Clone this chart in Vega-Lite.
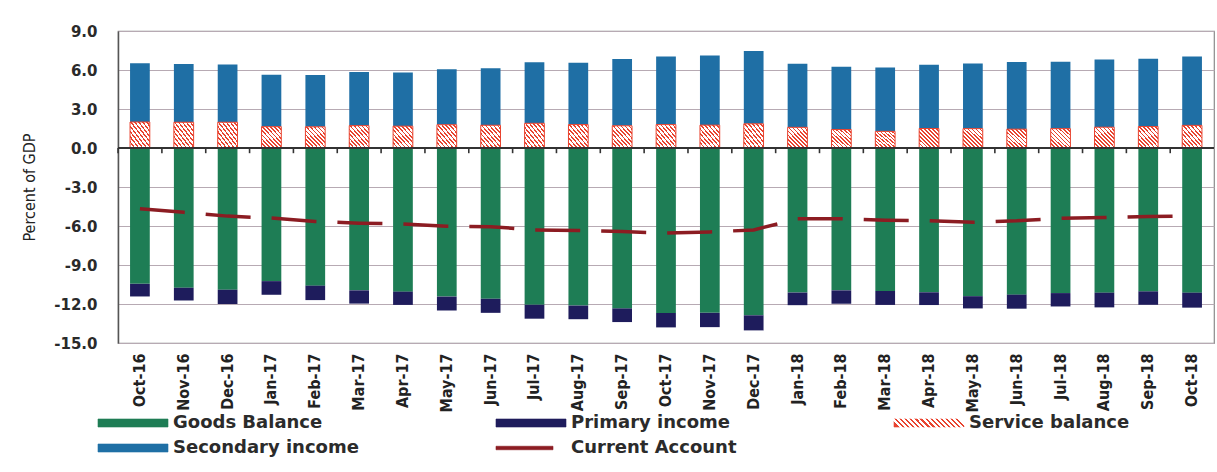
{
  "$schema": "https://vega.github.io/schema/vega-lite/v6.json",
  "width": 1096,
  "height": 312,
  "autosize": {"type": "none"},
  "padding": {"left": 118, "top": 31, "right": 3, "bottom": 129},
  "background": "white",
  "data": {
    "values": [
      {"month": "Oct-16", "Goods Balance": -10.45, "Primary income": -0.97, "Service balance": 2.0, "Secondary income": 4.52, "Current Account": -4.67},
      {"month": "Nov-16", "Goods Balance": -10.75, "Primary income": -0.98, "Service balance": 1.98, "Secondary income": 4.48, "Current Account": -4.95},
      {"month": "Dec-16", "Goods Balance": -10.9, "Primary income": -1.1, "Service balance": 1.98, "Secondary income": 4.44, "Current Account": -5.24},
      {"month": "Jan-17", "Goods Balance": -10.24, "Primary income": -1.05, "Service balance": 1.64, "Secondary income": 3.99, "Current Account": -5.39},
      {"month": "Feb-17", "Goods Balance": -10.59, "Primary income": -1.11, "Service balance": 1.63, "Secondary income": 3.99, "Current Account": -5.66},
      {"month": "Mar-17", "Goods Balance": -10.95, "Primary income": -1.02, "Service balance": 1.72, "Secondary income": 4.12, "Current Account": -5.78},
      {"month": "Apr-17", "Goods Balance": -11.05, "Primary income": -1.02, "Service balance": 1.68, "Secondary income": 4.12, "Current Account": -5.84},
      {"month": "May-17", "Goods Balance": -11.43, "Primary income": -1.07, "Service balance": 1.79, "Secondary income": 4.26, "Current Account": -6.01},
      {"month": "Jun-17", "Goods Balance": -11.6, "Primary income": -1.08, "Service balance": 1.75, "Secondary income": 4.39, "Current Account": -6.05},
      {"month": "Jul-17", "Goods Balance": -12.06, "Primary income": -1.07, "Service balance": 1.9, "Secondary income": 4.7, "Current Account": -6.3},
      {"month": "Aug-17", "Goods Balance": -12.12, "Primary income": -1.05, "Service balance": 1.8, "Secondary income": 4.76, "Current Account": -6.34},
      {"month": "Sep-17", "Goods Balance": -12.34, "Primary income": -1.05, "Service balance": 1.71, "Secondary income": 5.14, "Current Account": -6.43},
      {"month": "Oct-17", "Goods Balance": -12.69, "Primary income": -1.11, "Service balance": 1.8, "Secondary income": 5.24, "Current Account": -6.55},
      {"month": "Nov-17", "Goods Balance": -12.68, "Primary income": -1.1, "Service balance": 1.76, "Secondary income": 5.36, "Current Account": -6.46},
      {"month": "Dec-17", "Goods Balance": -12.87, "Primary income": -1.16, "Service balance": 1.86, "Secondary income": 5.6, "Current Account": -6.3},
      {"month": "Jan-18", "Goods Balance": -11.12, "Primary income": -0.97, "Service balance": 1.59, "Secondary income": 4.89, "Current Account": -5.45},
      {"month": "Feb-18", "Goods Balance": -10.95, "Primary income": -1.03, "Service balance": 1.42, "Secondary income": 4.83, "Current Account": -5.44},
      {"month": "Mar-18", "Goods Balance": -11.0, "Primary income": -1.07, "Service balance": 1.28, "Secondary income": 4.91, "Current Account": -5.55},
      {"month": "Apr-18", "Goods Balance": -11.1, "Primary income": -0.98, "Service balance": 1.5, "Secondary income": 4.91, "Current Account": -5.59},
      {"month": "May-18", "Goods Balance": -11.4, "Primary income": -0.94, "Service balance": 1.49, "Secondary income": 5.01, "Current Account": -5.71},
      {"month": "Jun-18", "Goods Balance": -11.28, "Primary income": -1.08, "Service balance": 1.45, "Secondary income": 5.16, "Current Account": -5.6},
      {"month": "Jul-18", "Goods Balance": -11.16, "Primary income": -1.03, "Service balance": 1.49, "Secondary income": 5.14, "Current Account": -5.41},
      {"month": "Aug-18", "Goods Balance": -11.13, "Primary income": -1.13, "Service balance": 1.6, "Secondary income": 5.2, "Current Account": -5.35},
      {"month": "Sep-18", "Goods Balance": -11.03, "Primary income": -1.03, "Service balance": 1.65, "Secondary income": 5.22, "Current Account": -5.26},
      {"month": "Oct-18", "Goods Balance": -11.13, "Primary income": -1.15, "Service balance": 1.74, "Secondary income": 5.29, "Current Account": -5.23}
    ]
  },
  "layer": [
    {
      "transform": [
        {"fold": ["Goods Balance", "Primary income", "Service balance", "Secondary income"], "as": ["series", "value"]}
      ],
      "mark": {"type": "bar"},
      "encoding": {
        "x": {
          "field": "month", "type": "nominal", "sort": null,
          "scale": {"paddingInner": 0.55, "paddingOuter": 0.275},
          "axis": {
            "title": null, "labelAngle": -90,
            "labelFont": "Liberation Sans Narrow, DejaVu Sans Condensed, sans-serif",
            "labelFontSize": 16, "labelFontWeight": "bold", "labelColor": "#222",
            "labelPadding": 10, "ticks": false, "domain": false, "grid": false
          }
        },
        "y": {
          "field": "value", "type": "quantitative", "stack": "zero", "title": "Percent of GDP",
          "scale": {"domain": [-15, 9], "nice": false, "zero": false},
          "axis": {
            "values": [-15, -12, -9, -6, -3, 0, 3, 6, 9],
            "tickCount": 12,
            "labelExpr": "datum.value < 0 ? '-' + format(-datum.value, '.1f') : format(datum.value, '.1f')",
            "labelOverlap": false,
            "labelFont": "DejaVu Sans", "labelFontSize": 15, "labelFontWeight": "bold", "labelColor": "#2a2a2a",
            "labelPadding": 21, "ticks": false,
            "domain": true, "domainColor": "#555", "domainWidth": 1.5,
            "grid": true, "gridColor": "#b7aab3", "gridWidth": 1.2,
            "titleFont": "Liberation Sans Narrow, DejaVu Sans Condensed, sans-serif",
            "titleFontSize": 16, "titleFontWeight": "normal", "titleColor": "#222",
            "titleX": -89, "titleY": 156, "titleAngle": -90, "titleAlign": "center", "titleBaseline": "middle"
          }
        },
        "color": {
          "field": "series", "type": "nominal",
          "scale": {
            "domain": ["Goods Balance", "Primary income", "Service balance", "Secondary income", "Current Account"],
            "range": [
              "#1e7d55",
              "#1e1c5c",
              {"expr": "{gradient: 'linear', x1: 0, y1: 0.557, x2: 1, y2: 0.443, stops: [{offset: 0, color: '#e8432f'}, {offset: 0.03, color: '#e8432f'}, {offset: 0.03, color: '#fff'}, {offset: 0.0714, color: '#fff'}, {offset: 0.0714, color: '#e8432f'}, {offset: 0.1014, color: '#e8432f'}, {offset: 0.1014, color: '#fff'}, {offset: 0.1429, color: '#fff'}, {offset: 0.1429, color: '#e8432f'}, {offset: 0.1729, color: '#e8432f'}, {offset: 0.1729, color: '#fff'}, {offset: 0.2143, color: '#fff'}, {offset: 0.2143, color: '#e8432f'}, {offset: 0.2443, color: '#e8432f'}, {offset: 0.2443, color: '#fff'}, {offset: 0.2857, color: '#fff'}, {offset: 0.2857, color: '#e8432f'}, {offset: 0.3157, color: '#e8432f'}, {offset: 0.3157, color: '#fff'}, {offset: 0.3571, color: '#fff'}, {offset: 0.3571, color: '#e8432f'}, {offset: 0.3871, color: '#e8432f'}, {offset: 0.3871, color: '#fff'}, {offset: 0.4286, color: '#fff'}, {offset: 0.4286, color: '#e8432f'}, {offset: 0.4586, color: '#e8432f'}, {offset: 0.4586, color: '#fff'}, {offset: 0.5, color: '#fff'}, {offset: 0.5, color: '#e8432f'}, {offset: 0.53, color: '#e8432f'}, {offset: 0.53, color: '#fff'}, {offset: 0.5714, color: '#fff'}, {offset: 0.5714, color: '#e8432f'}, {offset: 0.6014, color: '#e8432f'}, {offset: 0.6014, color: '#fff'}, {offset: 0.6429, color: '#fff'}, {offset: 0.6429, color: '#e8432f'}, {offset: 0.6729, color: '#e8432f'}, {offset: 0.6729, color: '#fff'}, {offset: 0.7143, color: '#fff'}, {offset: 0.7143, color: '#e8432f'}, {offset: 0.7443, color: '#e8432f'}, {offset: 0.7443, color: '#fff'}, {offset: 0.7857, color: '#fff'}, {offset: 0.7857, color: '#e8432f'}, {offset: 0.8157, color: '#e8432f'}, {offset: 0.8157, color: '#fff'}, {offset: 0.8571, color: '#fff'}, {offset: 0.8571, color: '#e8432f'}, {offset: 0.8871, color: '#e8432f'}, {offset: 0.8871, color: '#fff'}, {offset: 0.9286, color: '#fff'}, {offset: 0.9286, color: '#e8432f'}, {offset: 0.9586, color: '#e8432f'}, {offset: 0.9586, color: '#fff'}, {offset: 1, color: '#fff'}]}"},
              "#1f6fa5",
              "#8c1c22"
            ]
          },
          "legend": {
            "title": null, "orient": "none", "legendX": -24, "legendY": 383,
            "direction": "horizontal", "columns": 3, "gridAlign": "all",
            "columnPadding": 133, "rowPadding": 7, "padding": 0,
            "symbolSize": 100, "symbolType": "M-1,-0.8H13V0.8H-1Z",
            "labelOffset": 61, "labelFont": "DejaVu Sans", "labelFontSize": 18,
            "labelFontWeight": "bold", "labelColor": "#2b2b2b", "labelLimit": 400,
            "encode": {
              "symbols": {
                "update": {
                  "shape": {"signal": "datum.value === 'Current Account' ? 'M-1,-0.35H10.4V0.35H-1Z' : 'M-1,-0.8H13V0.8H-1Z'"},
                  "strokeWidth": {"value": 0.6}
                }
              }
            }
          }
        },
        "order": {"field": "value", "type": "quantitative", "sort": "ascending"}
      }
    },
    {
      "mark": {
        "type": "bar",
        "stroke": "#e8432f",
        "strokeWidth": 1,
        "fill": {
          "gradient": "linear", "x1": 0, "y1": 1, "x2": 1, "y2": 0,
          "stops": [
            {"offset": 0, "color": "#e8432f"}, {"offset": 0.04, "color": "#e8432f"}, {"offset": 0.04, "color": "#ffffff"}, {"offset": 0.1, "color": "#ffffff"},
            {"offset": 0.1, "color": "#e8432f"}, {"offset": 0.14, "color": "#e8432f"}, {"offset": 0.14, "color": "#ffffff"}, {"offset": 0.2, "color": "#ffffff"},
            {"offset": 0.2, "color": "#e8432f"}, {"offset": 0.24, "color": "#e8432f"}, {"offset": 0.24, "color": "#ffffff"}, {"offset": 0.3, "color": "#ffffff"},
            {"offset": 0.3, "color": "#e8432f"}, {"offset": 0.34, "color": "#e8432f"}, {"offset": 0.34, "color": "#ffffff"}, {"offset": 0.4, "color": "#ffffff"},
            {"offset": 0.4, "color": "#e8432f"}, {"offset": 0.44, "color": "#e8432f"}, {"offset": 0.44, "color": "#ffffff"}, {"offset": 0.5, "color": "#ffffff"},
            {"offset": 0.5, "color": "#e8432f"}, {"offset": 0.54, "color": "#e8432f"}, {"offset": 0.54, "color": "#ffffff"}, {"offset": 0.6, "color": "#ffffff"},
            {"offset": 0.6, "color": "#e8432f"}, {"offset": 0.64, "color": "#e8432f"}, {"offset": 0.64, "color": "#ffffff"}, {"offset": 0.7, "color": "#ffffff"},
            {"offset": 0.7, "color": "#e8432f"}, {"offset": 0.74, "color": "#e8432f"}, {"offset": 0.74, "color": "#ffffff"}, {"offset": 0.8, "color": "#ffffff"},
            {"offset": 0.8, "color": "#e8432f"}, {"offset": 0.84, "color": "#e8432f"}, {"offset": 0.84, "color": "#ffffff"}, {"offset": 0.9, "color": "#ffffff"},
            {"offset": 0.9, "color": "#e8432f"}, {"offset": 0.94, "color": "#e8432f"}, {"offset": 0.94, "color": "#ffffff"}, {"offset": 1, "color": "#ffffff"}
          ]
        }
      },
      "encoding": {
        "x": {"field": "month", "type": "nominal", "sort": null},
        "y": {"field": "Service balance", "type": "quantitative", "title": "Percent of GDP"}
      }
    },
    {
      "mark": {"type": "rule", "color": "#333333", "strokeWidth": 1.6},
      "encoding": {"y": {"datum": 0}}
    },
    {
      "mark": {"type": "rule", "color": "#333333", "strokeWidth": 1.6, "xOffset": -12},
      "encoding": {
        "x": {"field": "month", "type": "nominal", "sort": null, "bandPosition": 0},
        "y": {"datum": 0},
        "y2": {"datum": -0.4}
      }
    },
    {
      "mark": {"type": "line", "strokeWidth": 3.5, "strokeDash": [45, 21], "strokeCap": "butt"},
      "encoding": {
        "x": {"field": "month", "type": "nominal", "sort": null},
        "y": {"field": "Current Account", "type": "quantitative", "title": "Percent of GDP"},
        "color": {"datum": "Current Account"}
      }
    }
  ],
  "config": {
    "view": {"stroke": "#8a8a8a", "strokeWidth": 1.2},
    "font": "DejaVu Sans",
    "axisY": {"labelOverlap": false, "tickCount": 12}
  }
}
